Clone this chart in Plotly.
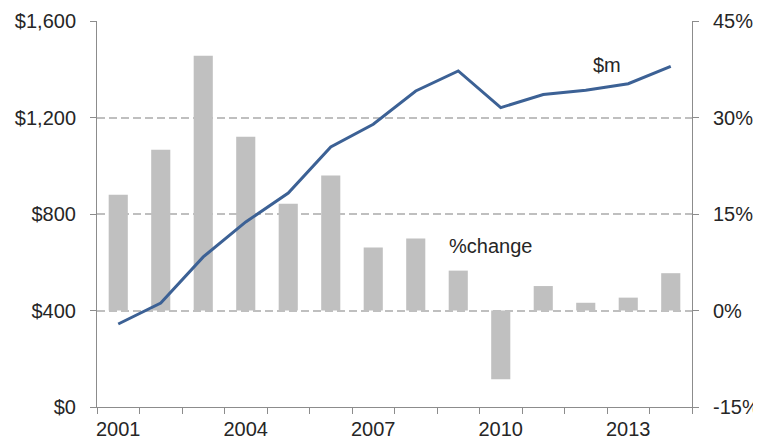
import plotly.graph_objects as go

years = [str(y) for y in range(2001, 2015)]
tick_text = ["2001", "", "", "2004", "", "", "2007", "", "", "2010", "", "", "2013", ""]
revenue_m = [344, 431, 622, 767, 887, 1078, 1172, 1310, 1393, 1241, 1295, 1313, 1340, 1412]
pct_change = [18.0, 25.0, 39.6, 27.0, 16.6, 21.0, 9.8, 11.2, 6.2, -10.7, 3.8, 1.2, 2.0, 5.8]

left_ticks = [0, 400, 800, 1200, 1600]
left_text = ["$0", "$400", "$800", "$1,200", "$1,600"]
right_ticks = [-15, 0, 15, 30, 45]
right_text = ["-15%", "0%", "15%", "30%", "45%"]

font = dict(family="Liberation Sans, Arial, sans-serif", size=20, color="#262626")
axis_grey = "#8c8c8c"

fig = go.Figure()

# bars go on y (right, %) so the line on y2 draws on top
fig.add_trace(go.Bar(x=years, y=pct_change, name='%change', yaxis='y',
                     marker=dict(color='#c0c0c0', line=dict(width=0))))
fig.add_trace(go.Scatter(x=years, y=revenue_m, name='$m', mode='lines', yaxis='y2',
                         line=dict(color='#3c6195', width=3)))

# page body has an 8px margin, so the figure is sized 8px smaller each way
fig.update_layout(
    width=753, height=434,
    margin=dict(l=89, r=69, t=13, b=35, autoexpand=False),
    paper_bgcolor='white', plot_bgcolor='white',
    showlegend=False,
    bargap=0.55,
    font=font,
    xaxis=dict(type='category', tickmode='array', tickvals=years, ticktext=tick_text,
               tickson='boundaries', ticks='outside', ticklen=6, tickcolor=axis_grey,
               showline=True, linecolor=axis_grey, linewidth=1, showgrid=False,
               range=[-0.5, 13.5], tickangle=0, automargin=False,
               ticklabelstandoff=4, tickfont=font),
    yaxis=dict(side='right', range=[-15, 45], tickmode='array', tickvals=right_ticks,
               ticktext=right_text, ticks='outside', ticklen=6, tickcolor=axis_grey,
               showline=True, linecolor=axis_grey, linewidth=1,
               showgrid=True, gridcolor='#bfbfbf', gridwidth=2, griddash='8px,4px',
               zeroline=False, automargin=False, ticklabelstandoff=10, tickfont=font),
    yaxis2=dict(side='left', overlaying='y', range=[0, 1600], tickmode='array',
                tickvals=left_ticks, ticktext=left_text, ticks='outside', ticklen=6,
                tickcolor=axis_grey, showline=True, linecolor=axis_grey, linewidth=1,
                showgrid=False, zeroline=False, automargin=False,
                ticklabelstandoff=10, tickfont=font),
)

fig.add_annotation(x=11.5, y=1418, xref='x', yref='y2', text='$m', showarrow=False,
                   font=font)
fig.add_annotation(x=8.76, y=10.0, xref='x', yref='y', text='%change', showarrow=False,
                   font=font)

fig.write_html("out.html")
